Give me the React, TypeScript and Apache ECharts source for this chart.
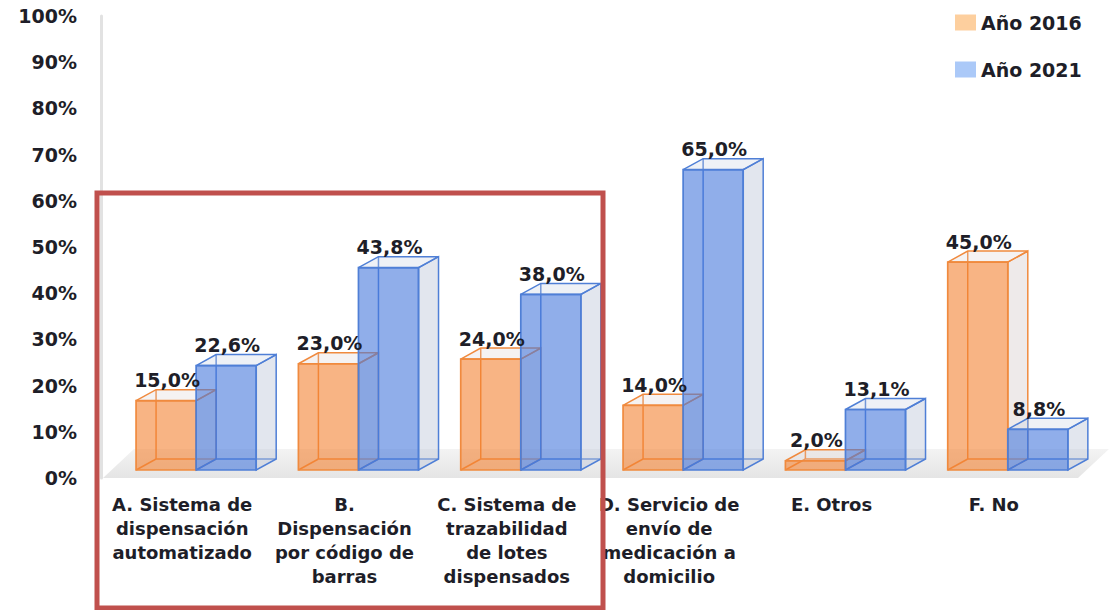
import React, { useEffect, useRef } from "react";
import * as echarts from "echarts";

const categories = [
  "A. Sistema de\ndispensación\nautomatizado",
  "B.\nDispensación\npor código de\nbarras",
  "C. Sistema de\ntrazabilidad\nde lotes\ndispensados",
  "D. Servicio de\nenvío de\nmedicación a\ndomicilio",
  "E. Otros",
  "F. No",
];
const seriesNames = ["Año 2016", "Año 2021"];
const values2016 = [15.0, 23.0, 24.0, 14.0, 2.0, 45.0];
const values2021 = [22.6, 43.8, 38.0, 65.0, 13.1, 8.8];
const yMin = 0;
const yMax = 100;
const yInterval = 10;

const FONT = "DejaVu Sans";
const TEXT = "#1e1e28";

const styles = [
  {
    front: "rgba(244,130,50,0.6)",
    stroke: "#f08a3e",
    side: "rgba(205,195,195,0.35)",
    top: "rgba(215,205,205,0.25)",
    legend: "#fdcf9e",
  },
  {
    front: "rgba(70,120,220,0.6)",
    stroke: "#4f7fd6",
    side: "rgba(185,195,215,0.42)",
    top: "rgba(200,210,225,0.3)",
    legend: "#abc9f8",
  },
];

function geom(api: any, side: number) {
  const idx = api.value(0);
  const v = api.value(1);
  const base = api.coord([idx, 0]);
  const topP = api.coord([idx, v]);
  const band = api.size([1, 0])[0];
  const w = band * 0.37;
  const shiftX = band * 0.086;
  const shiftY = -8;
  const cx = base[0] + shiftX;
  const x0 = side === 0 ? cx - w : cx;
  const yb = base[1] + shiftY;
  const yt = topP[1] + shiftY;
  return { v, x0, w, yb, yt, dx: 20, dy: -11 };
}

function boxRender(side: number) {
  const st = styles[side];
  return (params: any, api: any) => {
    const { x0, w, yb, yt, dx, dy } = geom(api, side);
    const lineStyle = { stroke: st.stroke, lineWidth: 1.5, fill: "none" };
    return {
      type: "group",
      children: [
        { type: "line", shape: { x1: x0 + dx, y1: yt + dy, x2: x0 + dx, y2: yb + dy }, style: lineStyle },
        { type: "line", shape: { x1: x0 + dx, y1: yb + dy, x2: x0 + w + dx, y2: yb + dy }, style: lineStyle },
        { type: "line", shape: { x1: x0, y1: yb, x2: x0 + dx, y2: yb + dy }, style: lineStyle },
        {
          type: "polygon",
          shape: { points: [[x0 + w, yt], [x0 + w + dx, yt + dy], [x0 + w + dx, yb + dy], [x0 + w, yb]] },
          style: { fill: st.side, stroke: st.stroke, lineWidth: 1.5 },
        },
        {
          type: "polygon",
          shape: { points: [[x0, yt], [x0 + w, yt], [x0 + w + dx, yt + dy], [x0 + dx, yt + dy]] },
          style: { fill: st.top, stroke: st.stroke, lineWidth: 1.5 },
        },
        {
          type: "rect",
          shape: { x: x0, y: yt, width: w, height: yb - yt },
          style: { fill: st.front, stroke: st.stroke, lineWidth: 1.7 },
        },
      ],
    };
  };
}

function labelRender(side: number) {
  return (params: any, api: any) => {
    const { v, x0, w, yt, dy } = geom(api, side);
    return {
      type: "text",
      x: x0 + w / 2 + 1,
      y: yt + dy,
      style: {
        text: v.toFixed(1).replace(".", ",") + "%",
        fill: TEXT,
        font: `bold 19px "${FONT}"`,
        align: "center",
        verticalAlign: "bottom",
      },
    };
  };
}

export default function App() {
  const ref = useRef<HTMLDivElement>(null);
  useEffect(() => {
    if (!ref.current) return;
    const chart = echarts.init(ref.current, null, { renderer: "svg" });
    const d16 = values2016.map((v, i) => [i, v]);
    const d21 = values2021.map((v, i) => [i, v]);
    chart.setOption({
      animation: false,
      backgroundColor: "#ffffff",
      textStyle: { fontFamily: FONT },
      grid: { left: 101, right: 34, top: 16, bottom: 132, containLabel: false },
      legend: {
        orient: "vertical",
        left: 950,
        top: 8,
        icon: "rect",
        itemWidth: 21,
        itemHeight: 16,
        itemGap: 28,
        textStyle: { fontFamily: FONT, fontWeight: "bold", fontSize: 19, color: TEXT },
        data: [
          { name: seriesNames[0], itemStyle: { color: styles[0].legend } },
          { name: seriesNames[1], itemStyle: { color: styles[1].legend } },
        ],
      },
      xAxis: {
        type: "category",
        data: categories,
        boundaryGap: true,
        axisLine: { show: false },
        axisTick: { show: false },
        axisLabel: {
          interval: 0,
          margin: 14,
          fontFamily: FONT,
          fontWeight: "bold",
          fontSize: 18,
          lineHeight: 24,
          color: TEXT,
        },
      },
      yAxis: {
        type: "value",
        min: yMin,
        max: yMax,
        interval: yInterval,
        axisLine: { show: true, lineStyle: { color: "#e2e2e2", width: 3 } },
        axisTick: { show: false },
        splitLine: { show: false },
        axisLabel: {
          formatter: "{value}%",
          margin: 24,
          fontFamily: FONT,
          fontWeight: "bold",
          fontSize: 19,
          color: TEXT,
        },
      },
      graphic: [
        {
          type: "polygon",
          z: 0,
          shape: { points: [[103, 478], [1078, 478], [1109, 449], [134, 449]] },
          style: {
            fill: new echarts.graphic.LinearGradient(0, 0, 0, 1, [
              { offset: 0, color: "#f3f3f3" },
              { offset: 1, color: "#e5e5e5" },
            ]),
          },
        },
        {
          type: "rect",
          z: 100,
          shape: { x: 97, y: 193, width: 506, height: 415 },
          style: { fill: "none", stroke: "#c0504d", lineWidth: 5 },
        },
      ],
      series: [
        {
          name: seriesNames[0],
          type: "custom",
          z: 3,
          itemStyle: { color: styles[0].legend },
          encode: { x: 0, y: 1 },
          data: d16,
          renderItem: boxRender(0),
        },
        {
          name: seriesNames[1],
          type: "custom",
          z: 4,
          itemStyle: { color: styles[1].legend },
          encode: { x: 0, y: 1 },
          data: d21,
          renderItem: boxRender(1),
        },
        {
          name: "labels2016",
          type: "custom",
          z: 10,
          encode: { x: 0, y: 1 },
          data: d16,
          renderItem: labelRender(0),
        },
        {
          name: "labels2021",
          type: "custom",
          z: 10,
          encode: { x: 0, y: 1 },
          data: d21,
          renderItem: labelRender(1),
        },
      ],
    });
    return () => chart.dispose();
  }, []);
  return (
    <div
      ref={ref}
      style={{ position: "fixed", left: 0, top: 0, width: 1109, height: 610 }}
    />
  );
}
